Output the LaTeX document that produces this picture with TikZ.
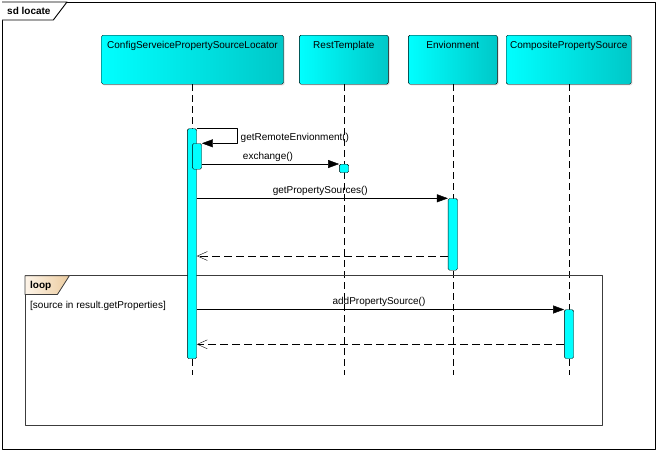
\documentclass[tikz,border=0pt]{standalone}
\usepackage{fontspec}
\setmainfont{Liberation Sans}
\usetikzlibrary{arrows.meta,shadows}
\definecolor{headcyan}{RGB}{0,255,255}
\definecolor{headdark}{RGB}{0,200,200}
\definecolor{tabtan}{RGB}{236,204,160}
\definecolor{tablight}{RGB}{253,244,232}
\definecolor{framegray}{RGB}{60,60,60}
\tikzset{
  head/.style={draw,rounded corners=1.5pt,left color=headcyan,right color=headdark,
    text height=9pt,text depth=32pt,inner ysep=4pt,inner xsep=1pt,anchor=north,
    drop shadow={shadow xshift=1.2pt,shadow yshift=-1.2pt,opacity=0.25}},
  act/.style={draw,fill=headcyan,rounded corners=1.5pt,inner sep=0pt,minimum width=9.4pt,anchor=north},
  life/.style={dash pattern=on 7pt off 4pt},
  msg/.style={-{Triangle[length=11pt,width=8pt]}},
  ret/.style={dash pattern=on 8pt off 4pt,-{Straight Barb[length=10pt,width=9pt]}},
  lbl/.style={inner sep=0pt},
}
\begin{document}
\begin{tikzpicture}[x=1pt,y=-1pt,line join=round,font=\fontsize{10}{11}\selectfont]
  \useasboundingbox (0,0) rectangle (657,451);
  %Outer frame
  \draw[line width=0.9pt] (2,2) rectangle (655.5,449);
  \draw[line width=0.9pt,fill=white] (2,2)--(67,2)--(53.3,20)--(2,20);
  \node[anchor=west,inner sep=0pt,font=\fontsize{10}{11}\selectfont\bfseries] (sdname) at (7,11) {sd locate};
  %Lifeline heads
  \node[head,minimum width=182pt] (loc) at (192.5,35) {ConfigServeicePropertySourceLocator};
  \node[head,minimum width=89pt] (rest) at (343.8,35) {RestTemplate};
  \node[head,minimum width=89pt] (env) at (452.8,35) {Envionment};
  \node[head,minimum width=125pt] (comp) at (568.7,35) {CompositePropertySource};
  \foreach \h in {loc,rest,env,comp}
    \draw[life] (\h.south) -- (\h.south |- 0,375);
  %Loop fragment
  \draw[framegray,line width=1pt] (25,275.7) rectangle (602.7,425.7);
  \draw[framegray,line width=0.8pt,left color=tablight,right color=tabtan]
    (25,275.7)--(69.4,275.7)--(57.4,294.5)--(25,294.5)--cycle;
  \node[anchor=west,inner sep=0pt,font=\fontsize{10}{11}\selectfont\bfseries] (loopname) at (30,285.5) {loop};
  \node[lbl,anchor=west] (guard) at (30,305.7) {[source in result.getProperties]};
  %Activations
  \node[act,minimum height=230pt] (a1) at (192,128.5) {};
  \node[act,minimum height=25.7pt] (a2) at (197,143.3) {};
  \node[act,minimum height=8.5pt] (a3) at (344,164) {};
  \node[act,minimum height=71.7pt] (a4) at (452.8,198.3) {};
  \node[act,minimum height=48.8pt] (a5) at (569,309.5) {};
  %Messages
  \draw[msg] (a1.north east) -- (237.5,128.5) |- (a2.north east);
  \node[lbl,anchor=west] (m1) at (240.5,137.5) {getRemoteEnvionment()};
  \draw[msg] (a2.east |- a3.north) -- (a3.north west);
  \node[lbl] (m2) at (268,156.5) {exchange()};
  \draw[msg] (a1.east |- a4.north) -- (a4.north west);
  \node[lbl] (m3) at (320.3,190.5) {getPropertySources()};
  \draw[ret] (a4.west |- 0,256) -- (a1.east |- 0,256);
  \draw[msg] (a1.east |- a5.north) -- (a5.north west);
  \node[lbl] (m4) at (379,301.5) {addPropertySource()};
  \draw[ret] (a5.west |- 0,344.3) -- (a1.east |- 0,344.3);
\end{tikzpicture}
\end{document}
